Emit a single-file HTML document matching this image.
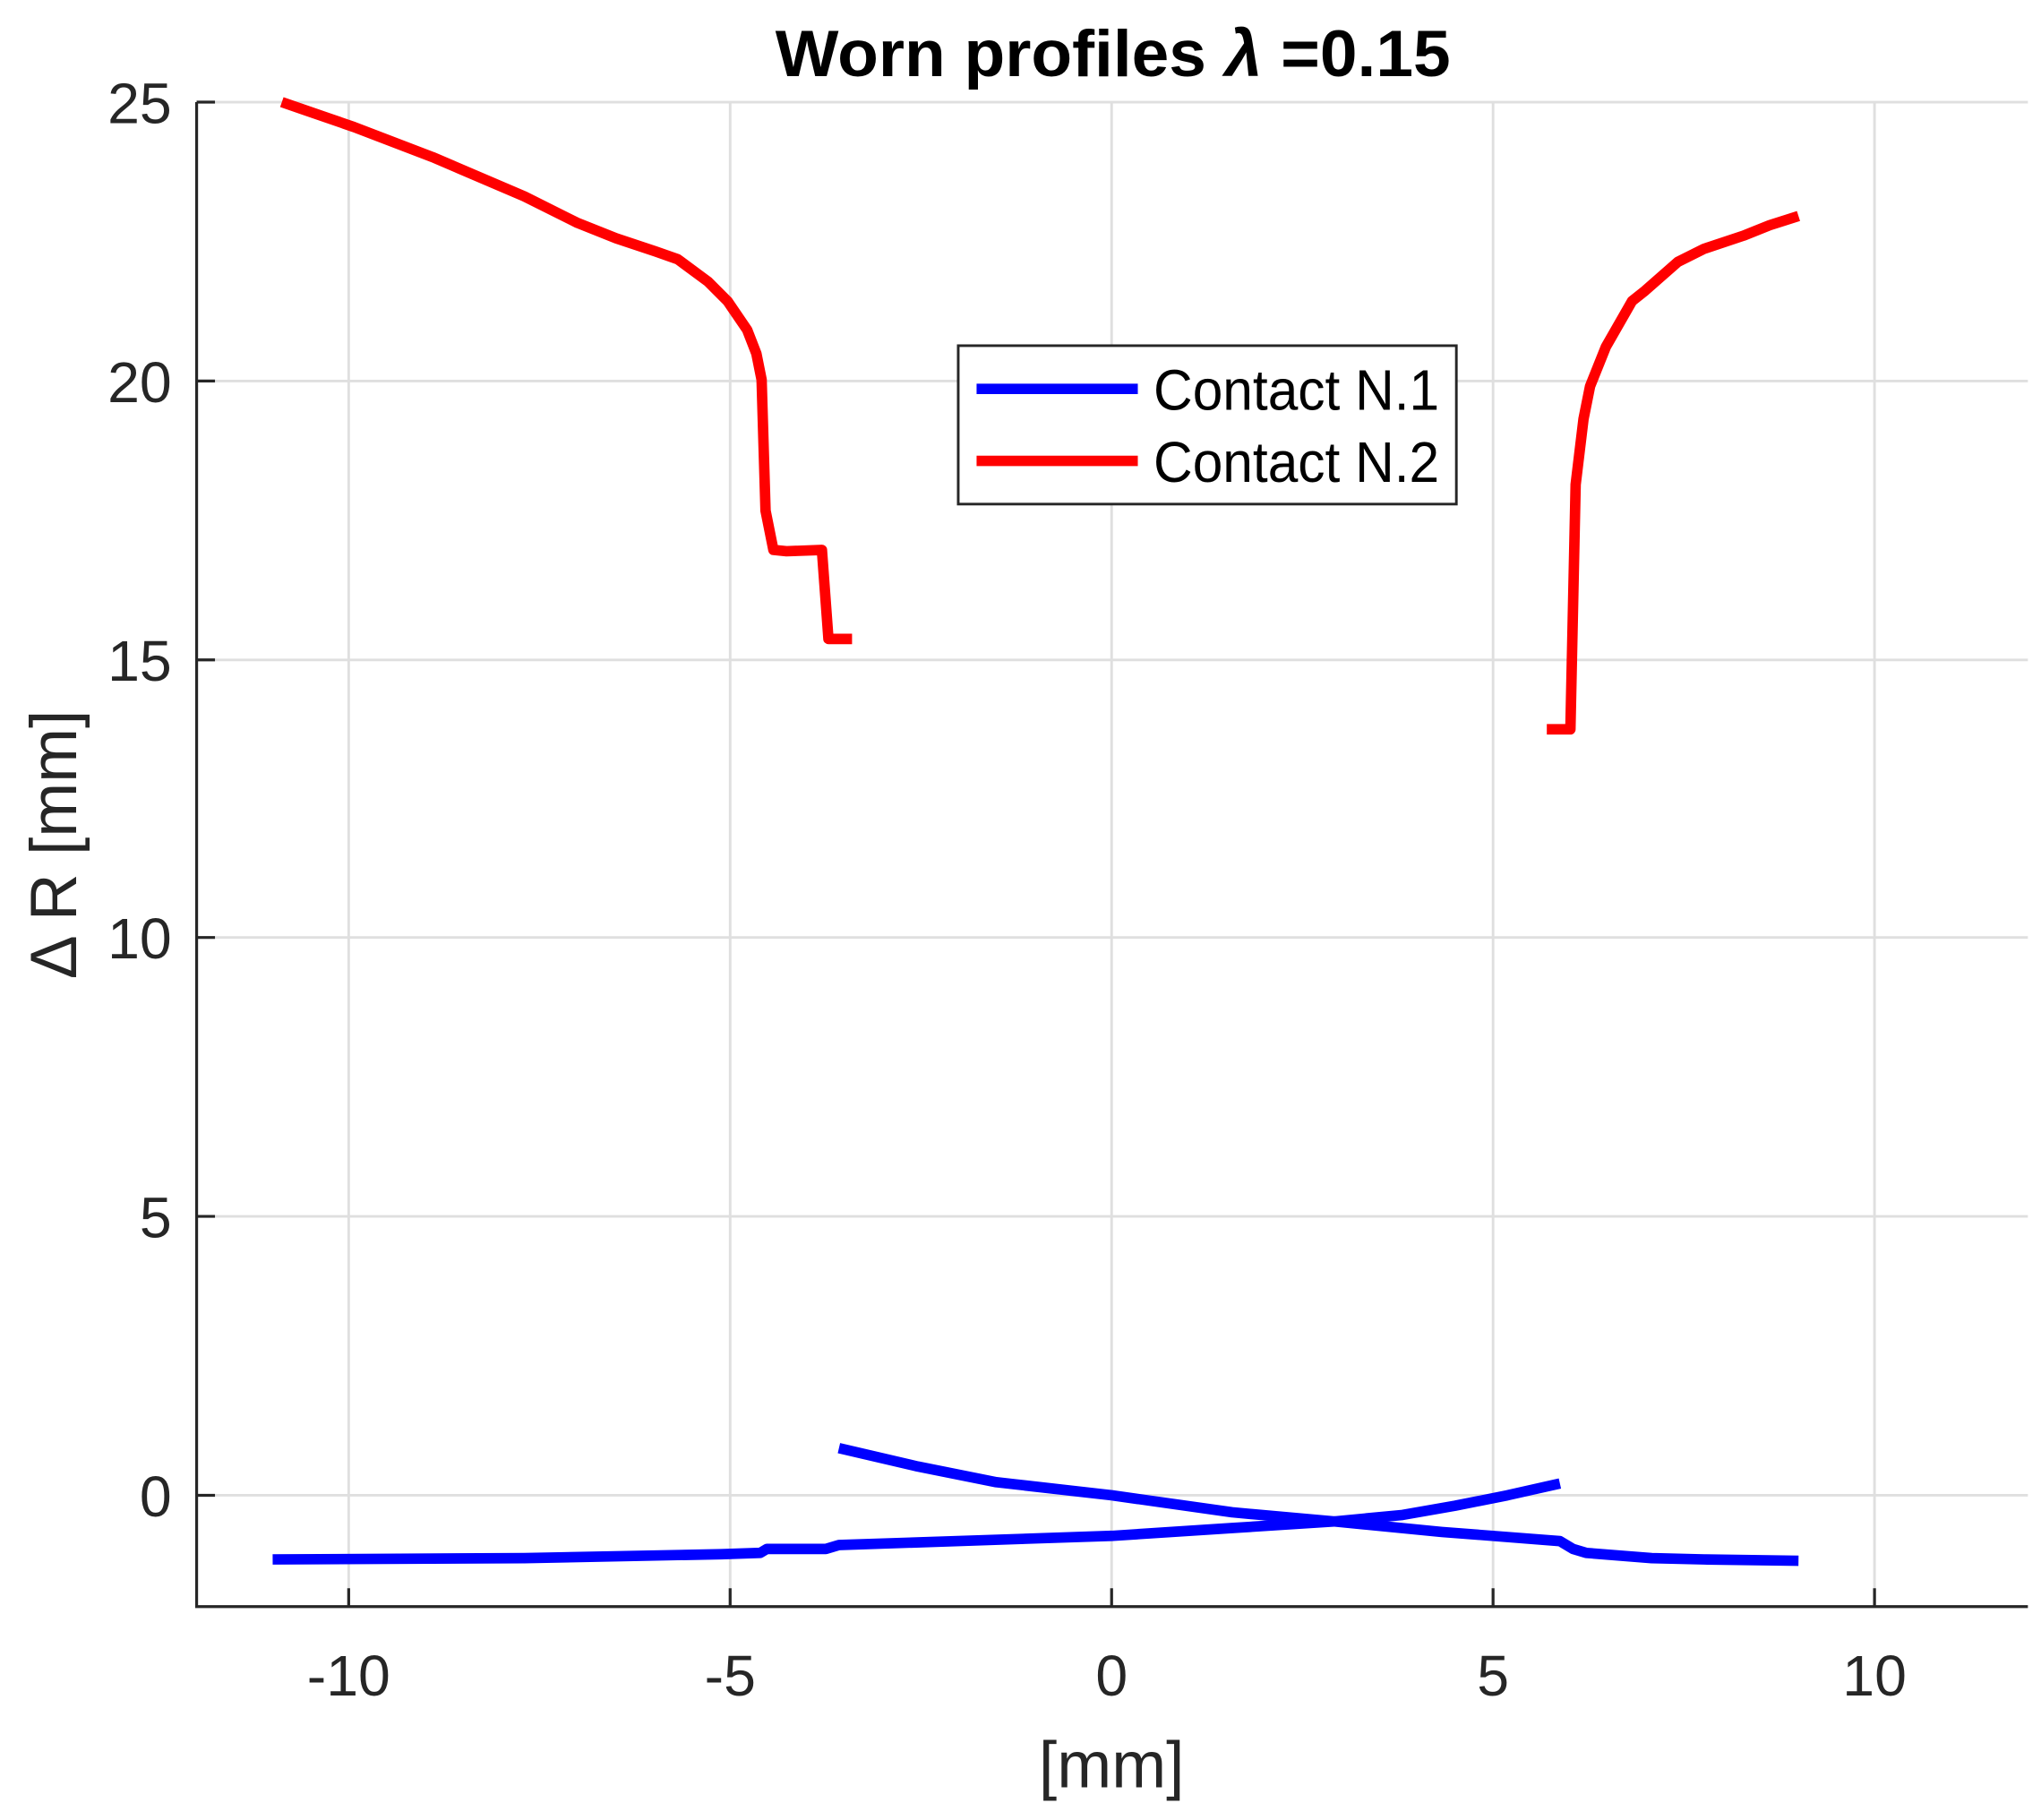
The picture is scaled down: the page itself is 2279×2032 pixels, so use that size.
<!DOCTYPE html>
<html><head><meta charset="utf-8"><style>html,body{margin:0;padding:0;background:#fff}svg{display:block}</style></head>
<body>
<svg width="2279" height="2032" viewBox="0 0 1557 1390" preserveAspectRatio="none" xmlns="http://www.w3.org/2000/svg" font-family="'Liberation Sans', sans-serif">
<rect width="1557" height="1390" fill="#fff"/>
<g stroke="#dfdfdf" stroke-width="2">
<line x1="266" y1="78" x2="266" y2="1227"/><line x1="557" y1="78" x2="557" y2="1227"/><line x1="848" y1="78" x2="848" y2="1227"/><line x1="1139" y1="78" x2="1139" y2="1227"/><line x1="1430" y1="78" x2="1430" y2="1227"/>
<line x1="150" y1="78" x2="1547" y2="78"/><line x1="150" y1="291" x2="1547" y2="291"/><line x1="150" y1="504" x2="1547" y2="504"/><line x1="150" y1="716" x2="1547" y2="716"/><line x1="150" y1="929" x2="1547" y2="929"/><line x1="150" y1="1142" x2="1547" y2="1142"/>
</g>
<g stroke="#262626" stroke-width="2.2" fill="none">
<path d="M150,78 V1227 H1547"/>
<path d="M266,1227v-14M557,1227v-14M848,1227v-14M1139,1227v-14M1430,1227v-14"/>
<path d="M150,78h14M150,291h14M150,504h14M150,716h14M150,929h14M150,1142h14"/>
</g>
<g fill="#262626" font-size="44" text-anchor="middle">
<text x="266" y="1295">-10</text><text x="557" y="1295">-5</text><text x="848" y="1295">0</text><text x="1139" y="1295">5</text><text x="1430" y="1295">10</text>
</g>
<g fill="#262626" font-size="44" text-anchor="end">
<text x="131" y="94">25</text><text x="131" y="307">20</text><text x="131" y="520">15</text><text x="131" y="732">10</text><text x="131" y="945">5</text><text x="131" y="1158">0</text>
</g>
<text x="848" y="1365" font-size="50" fill="#262626" text-anchor="middle">[mm]</text>
<text transform="translate(58,645) rotate(-90)" font-size="50" fill="#262626" text-anchor="middle">Δ R [mm]</text>
<text x="849" y="58" font-size="50" font-weight="bold" text-anchor="middle" fill="#000" textLength="515" lengthAdjust="spacingAndGlyphs">Worn profiles <tspan font-style="italic">λ</tspan> =0.15</text>
<g fill="none" stroke-width="8" stroke-linejoin="round">
<polyline stroke="#ff0000" points="215,78 270,97 330,120 400,150 440,170 470,182 500,192 517,198 540,215 555,230 570,252 577,270 581,290 584,390 590,420 600,421 627,420 632,488 650,488"/>
<polyline stroke="#ff0000" points="1180,557 1198,557 1202,370 1208,320 1213,295 1225,265 1245,230 1255,222 1280,200 1300,190 1330,180 1350,172 1372,165"/>
<polyline stroke="#0000ff" points="640,1106 700,1120 760,1132 848,1142 940,1155 1018,1162 1100,1170 1190,1177 1200,1183 1210,1186 1260,1190 1300,1191 1372,1192"/>
<polyline stroke="#0000ff" points="208,1191 400,1190 550,1187 580,1186 585,1183 630,1183 640,1180 848,1173 940,1167 1018,1162 1070,1157 1110,1150 1150,1142 1190,1133"/>
</g>
<rect x="731" y="264" width="380" height="121" fill="#fff" stroke="#262626" stroke-width="2"/>
<line x1="745" y1="297" x2="868" y2="297" stroke="#0000ff" stroke-width="8"/>
<line x1="745" y1="352" x2="868" y2="352" stroke="#ff0000" stroke-width="8"/>
<text x="880" y="313" font-size="44" fill="#000" textLength="218" lengthAdjust="spacingAndGlyphs">Contact N.1</text>
<text x="880" y="368" font-size="44" fill="#000" textLength="218" lengthAdjust="spacingAndGlyphs">Contact N.2</text>
</svg>
</body></html>
